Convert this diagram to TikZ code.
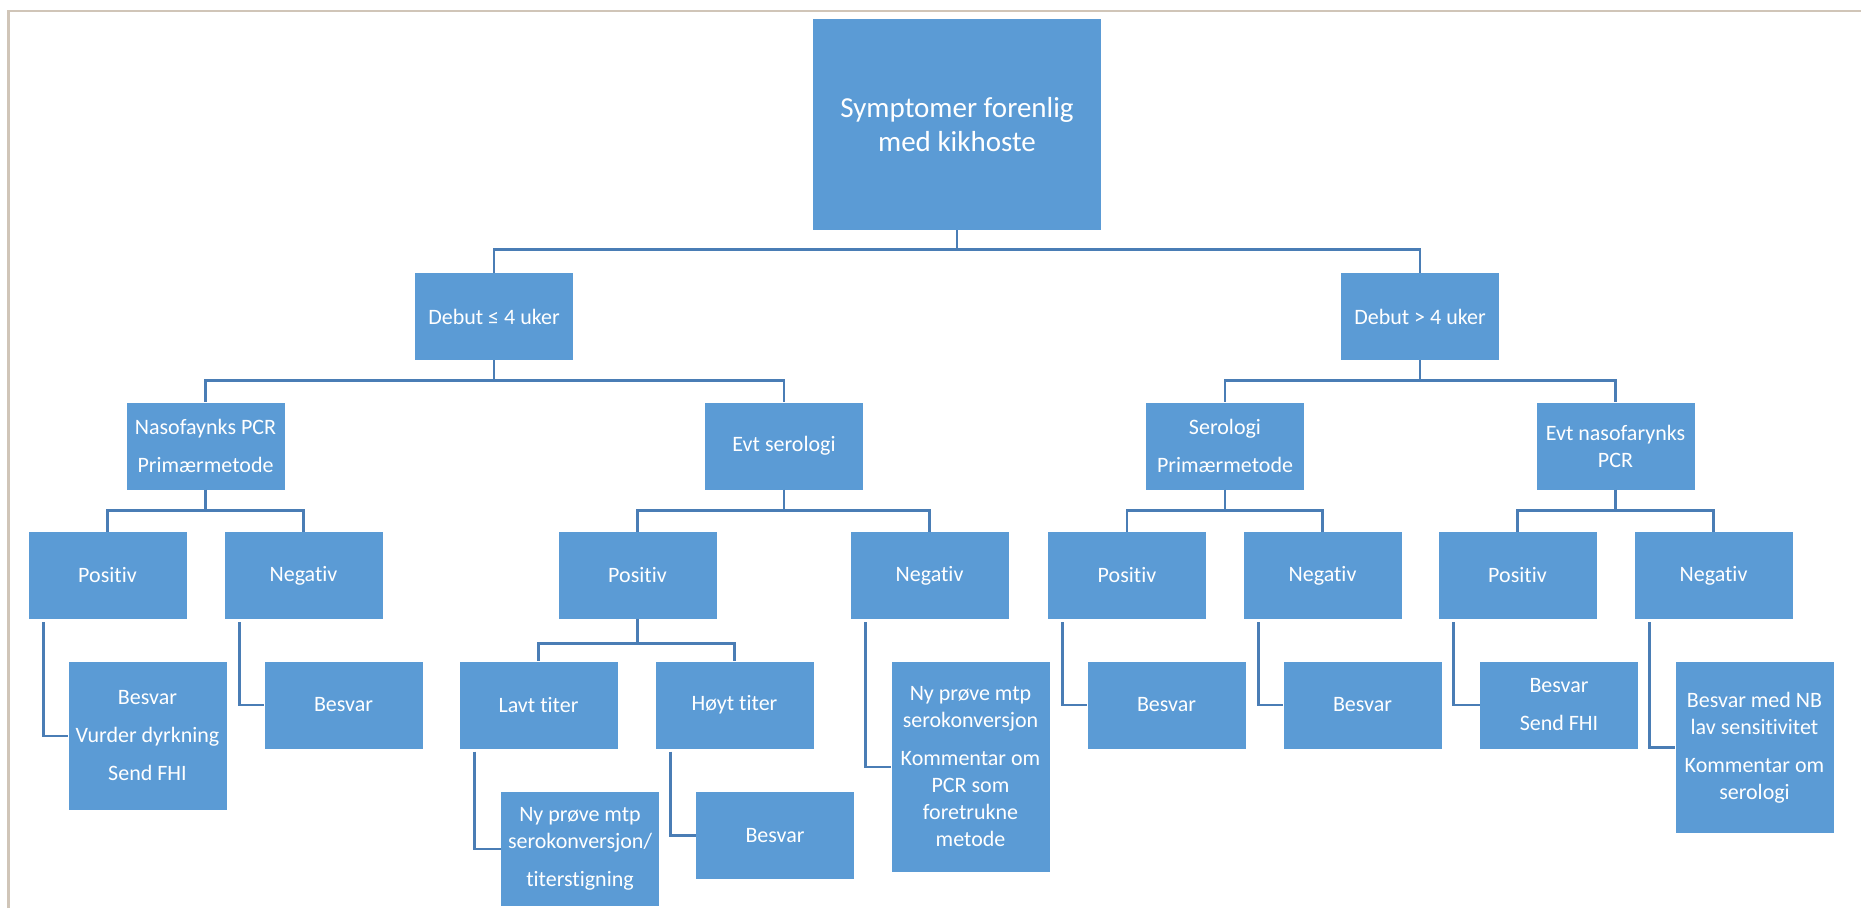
\documentclass[tikz,border=0pt]{standalone}
\usepackage{fontspec}
\setmainfont{Carlito}[Ligatures=NoCommon]
\definecolor{boxblue}{HTML}{5B9BD5}
\definecolor{linkblue}{HTML}{4A7DB5}
\definecolor{framegray}{HTML}{D0C5B8}
\tikzset{
	block/.style={rectangle, fill=boxblue, text=white, inner sep=0pt, align=center,
		minimum width=158pt, minimum height=87pt, font=\fontsize{22}{27}\selectfont},
	link/.style={draw=linkblue, line width=2.8pt}
}
\begin{document}
\begin{tikzpicture}[x=1pt,y=1pt]
			\useasboundingbox (0,0) rectangle (1861,-908);
			
			%Frame
			\draw[framegray, line width=2.5pt] (8.5,-908) -- (8.5,-11) -- (1861,-11);
			
			%Blocks of the tree
			\node (symptomer) at (957,-124.5) [block, minimum width=288pt, minimum height=211pt,
			font=\fontsize{29}{34}\selectfont]{Symptomer forenlig\\med kikhoste};
			\node (debutEarly) at (494,-316.5) [block]{Debut ≤ 4 uker};
			\node (debutLate) at (1420,-316.5) [block]{Debut > 4 uker};
			
			\node (nasoPCR) at (205.5,-446) [block]{Nasofaynks PCR\\[11pt]Primærmetode};
			\node (evtSerologi) at (784,-446) [block]{Evt serologi};
			\node (serologi) at (1225,-446) [block]{Serologi\\[11pt]Primærmetode};
			\node (evtNasoPCR) at (1615.5,-446) [block]{Evt nasofarynks\\PCR};
			
			\node (posNaso) at (107.5,-575.5) [block]{Positiv};
			\node (negNaso) at (303.5,-575.5) [block]{Negativ};
			\node (posEvtSero) at (637.5,-575.5) [block]{Positiv};
			\node (negEvtSero) at (929.5,-575.5) [block]{Negativ};
			\node (posSero) at (1127,-575.5) [block]{Positiv};
			\node (negSero) at (1322.5,-575.5) [block]{Negativ};
			\node (posEvtNaso) at (1517.5,-575.5) [block]{Positiv};
			\node (negEvtNaso) at (1713.5,-575.5) [block]{Negativ};
			
			%Answers
			\node (svarPosNaso) at (147.5,-736) [block, minimum height=148pt]
			{Besvar\\[11pt]Vurder dyrkning\\[11pt]Send FHI};
			\node (svarNegNaso) at (343.5,-705) [block]{Besvar};
			\node (lavtTiter) at (538.5,-705) [block]{Lavt titer};
			\node (hoytTiter) at (734.5,-705) [block]{Høyt titer};
			\node (svarNegEvtSero) at (970.5,-767) [block, minimum height=210pt]
			{Ny prøve mtp\\serokonversjon\\[11pt]Kommentar om\\PCR som\\foretrukne\\metode};
			\node (svarPosSero) at (1166.5,-705) [block]{Besvar};
			\node (svarNegSero) at (1362.5,-705) [block]{Besvar};
			\node (svarPosEvtNaso) at (1559,-705) [block]{Besvar\\[11pt]Send FHI};
			\node (svarNegEvtNaso) at (1754.5,-747.5) [block, minimum height=171pt]
			{Besvar med NB\\lav sensitivitet\\[11pt]Kommentar om\\serologi};
			\node (svarLavt) at (580,-849) [block, minimum height=114pt]
			{Ny prøve mtp\\serokonversjon/\\[11pt]titerstigning};
			\node (svarHoyt) at (775,-835.5) [block]{Besvar};
			
			%Tree links
			\draw[link] (symptomer.south) -- ++(0,-19.5) -| (debutEarly.north);
			\draw[link] (symptomer.south) -- ++(0,-19.5) -| (debutLate.north);
			\draw[link] (debutEarly.south) -- ++(0,-20) -| (nasoPCR.north);
			\draw[link] (debutEarly.south) -- ++(0,-20) -| (evtSerologi.north);
			\draw[link] (debutLate.south) -- ++(0,-20) -| (serologi.north);
			\draw[link] (debutLate.south) -- ++(0,-20) -| (evtNasoPCR.north);
			\draw[link] (nasoPCR.south) -- ++(0,-21) -| (posNaso.north);
			\draw[link] (nasoPCR.south) -- ++(0,-21) -| (negNaso.north);
			\draw[link] (evtSerologi.south) -- ++(0,-21) -| (posEvtSero.north);
			\draw[link] (evtSerologi.south) -- ++(0,-21) -| (negEvtSero.north);
			\draw[link] (serologi.south) -- ++(0,-21) -| (posSero.north);
			\draw[link] (serologi.south) -- ++(0,-21) -| (negSero.north);
			\draw[link] (evtNasoPCR.south) -- ++(0,-21) -| (posEvtNaso.north);
			\draw[link] (evtNasoPCR.south) -- ++(0,-21) -| (negEvtNaso.north);
			\draw[link] (posEvtSero.south) -- ++(0,-24) -| (lavtTiter.north);
			\draw[link] (posEvtSero.south) -- ++(0,-24) -| (hoytTiter.north);
			
			%Elbows to the answers
			\draw[link] ([xshift=15pt,yshift=-3pt]posNaso.south west) |- (svarPosNaso.west);
			\draw[link] ([xshift=15pt,yshift=-3pt]negNaso.south west) |- (svarNegNaso.west);
			\draw[link] ([xshift=15pt,yshift=-3pt]negEvtSero.south west) |- (svarNegEvtSero.west);
			\draw[link] ([xshift=15pt,yshift=-3pt]posSero.south west) |- (svarPosSero.west);
			\draw[link] ([xshift=15pt,yshift=-3pt]negSero.south west) |- (svarNegSero.west);
			\draw[link] ([xshift=15pt,yshift=-3pt]posEvtNaso.south west) |- (svarPosEvtNaso.west);
			\draw[link] ([xshift=15pt,yshift=-3pt]negEvtNaso.south west) |- (svarNegEvtNaso.west);
			\draw[link] ([xshift=15pt,yshift=-3pt]lavtTiter.south west) |- (svarLavt.west);
			\draw[link] ([xshift=15pt,yshift=-3pt]hoytTiter.south west) |- (svarHoyt.west);
			
\end{tikzpicture}
\end{document}
